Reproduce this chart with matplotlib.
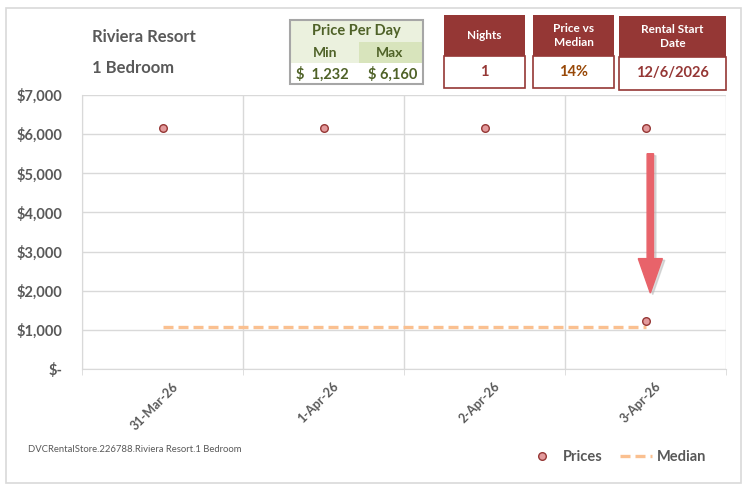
import matplotlib
matplotlib.use("Agg")
import matplotlib.pyplot as plt
from matplotlib.patches import Rectangle, FancyArrow
from matplotlib.lines import Line2D
import matplotlib.transforms as mtransforms

# ---- data ----
dates = ["31-Mar-26", "1-Apr-26", "2-Apr-26", "3-Apr-26"]
price_x = [0, 1, 2, 3, 3]
price_values = [6160, 6160, 6160, 6160, 1232]
median_value = 1080
median_x = [0, 3]
yticks = [0, 1000, 2000, 3000, 4000, 5000, 6000, 7000]
ytick_labels = ["$-", "$1,000", "$2,000", "$3,000", "$4,000", "$5,000", "$6,000", "$7,000"]

resort = "Riviera Resort"
room = "1 Bedroom"
min_price = "$  1,232"
max_price = "$ 6,160"
nights = "1"
price_vs_median = "14%"
start_date = "12/6/2026"
footer = "DVCRentalStore.226788.Riviera Resort.1 Bedroom"

FONT = ["Lato", "DejaVu Sans"]
plt.rcParams["font.family"] = FONT

GRAY = "#595959"
GRID = "#D9D9D9"
DARKRED = "#953735"
GREEN_TXT = "#4F6228"

W, H = 754, 496
fig = plt.figure(figsize=(W / 100, H / 100), dpi=100)
fig.patch.set_facecolor("white")

def fx(px):
    return px / W

def fy(py):
    return 1 - py / H

# outer border
fig.add_artist(Rectangle((fx(6), fy(483)), fx(741) - fx(6), fy(8) - fy(483),
                         transform=fig.transFigure, fill=False, edgecolor=GRID, lw=1.2))

ax = fig.add_axes([fx(82), fy(369), fx(726) - fx(82), fy(95) - fy(369)])
ax.set_xlim(-0.5, 3.5)
ax.set_ylim(0, 7000)

# grid
ax.set_yticks(yticks)
ax.set_yticklabels(ytick_labels)
ax.yaxis.grid(True, color=GRID, lw=1)
ax.set_xticks([0, 1, 2, 3])
ax.set_xticklabels(dates, rotation=45, ha="right", rotation_mode="anchor")
ax.set_xticks([-0.5, 0.5, 1.5, 2.5, 3.5], minor=True)
ax.xaxis.grid(True, which="minor", color=GRID, lw=1)
ax.tick_params(axis="x", which="major", length=0, pad=8, labelsize=9, labelcolor=GRAY)
ax.tick_params(axis="x", which="minor", length=4, color=GRID)
ax.tick_params(axis="y", length=0, pad=14, labelsize=10.5, labelcolor=GRAY)
shift = mtransforms.ScaledTranslation(9 / 100, 0, fig.dpi_scale_trans)
for lab in ax.get_xticklabels():
    lab.set_fontweight("bold")
    lab.set_transform(lab.get_transform() + shift)
for lab in ax.get_yticklabels():
    lab.set_fontweight("bold")
for s in ["top", "right"]:
    ax.spines[s].set_visible(False)
for s in ["left", "bottom"]:
    ax.spines[s].set_color(GRID)
ax.set_axisbelow(True)

# median line
ax.plot(median_x, [median_value, median_value], color="#FAC090", lw=2.4,
        dashes=(3, 1.5), zorder=3)
# price points
ax.scatter(price_x, price_values, s=30, facecolor="#E39A9C", edgecolor=DARKRED,
           linewidth=1, zorder=4)

# red arrow (annotation shape)
shadow = FancyArrow(3.045, 5450, 0, -3550, width=0.04, head_width=0.15,
                    head_length=880, length_includes_head=True,
                    color="#BBBBBB", alpha=0.5, zorder=4)
ax.add_patch(shadow)
arrow = FancyArrow(3.03, 5500, 0, -3560, width=0.04, head_width=0.15,
                   head_length=880, length_includes_head=True,
                   color="#E8636A", zorder=5)
ax.add_patch(arrow)

# titles
fig.text(fx(92), fy(37), resort, fontsize=12, fontweight="bold", color=GRAY, va="center")
fig.text(fx(92), fy(68), room, fontsize=12, fontweight="bold", color=GRAY, va="center")

# price per day table
def rect(x0, y0, x1, y1, fc, ec="none", lw=1.0):
    fig.add_artist(Rectangle((fx(x0), fy(y1)), fx(x1) - fx(x0), fy(y0) - fy(y1),
                             transform=fig.transFigure, facecolor=fc, edgecolor=ec, lw=lw))

rect(290, 20, 423, 63, "#EBF1DE")
rect(359, 42, 423, 63, "#D8E4BC")
rect(290, 63, 423, 84, "white")
rect(290, 20, 423, 84, "none", ec="#A6A6A6", lw=1.5)
fig.text(fx(356), fy(31), "Price Per Day", fontsize=10.5, fontweight="bold",
         color=GREEN_TXT, ha="center", va="center")
fig.text(fx(325), fy(53), "Min", fontsize=10, fontweight="bold",
         color=GREEN_TXT, ha="center", va="center")
fig.text(fx(390), fy(53), "Max", fontsize=10, fontweight="bold",
         color=GREEN_TXT, ha="center", va="center")
fig.text(fx(296), fy(74), min_price, fontsize=10.5, fontweight="bold",
         color=GREEN_TXT, ha="left", va="center")
fig.text(fx(417), fy(74), max_price, fontsize=10.5, fontweight="bold",
         color=GREEN_TXT, ha="right", va="center")

# info boxes
def info_box(x0, x1, y0, ymid, y1, header, value, vcolor):
    rect(x0, y0, x1, ymid, DARKRED)
    rect(x0, ymid, x1, y1, "white", ec=DARKRED, lw=1.2)
    fig.text(fx((x0 + x1) / 2), fy((y0 + ymid) / 2), header, fontsize=8.5,
             fontweight="bold", color="white", ha="center", va="center",
             linespacing=1.3)
    fig.text(fx((x0 + x1) / 2), fy((ymid + y1) / 2), value, fontsize=10.5,
             fontweight="bold", color=vcolor, ha="center", va="center")

info_box(444, 525, 15, 56, 88, "Nights", nights, DARKRED)
info_box(533, 614, 15, 56, 88, "Price vs\nMedian", price_vs_median, "#984807")
info_box(619, 726, 16, 57, 90, "Rental Start\nDate", start_date, DARKRED)

# footer
fig.text(fx(28), fy(450), footer, fontsize=6.8, color=GRAY, va="center")

# legend
handles = [Line2D([], [], ls="none", marker="o", markersize=5.5,
                  markerfacecolor="#E39A9C", markeredgecolor=DARKRED),
           Line2D([], [], color="#FAC090", lw=2.4, dashes=(3, 1.5))]
leg = fig.legend(handles, ["Prices", "Median"], loc="center",
                 bbox_to_anchor=(fx(616), fy(457)), ncol=2, frameon=False,
                 handlelength=2.2, columnspacing=1.2, handletextpad=0.3,
                 prop={"weight": "bold", "size": 10.5, "family": FONT})
for t in leg.get_texts():
    t.set_color(GRAY)

fig.savefig("out.png", dpi=100)
